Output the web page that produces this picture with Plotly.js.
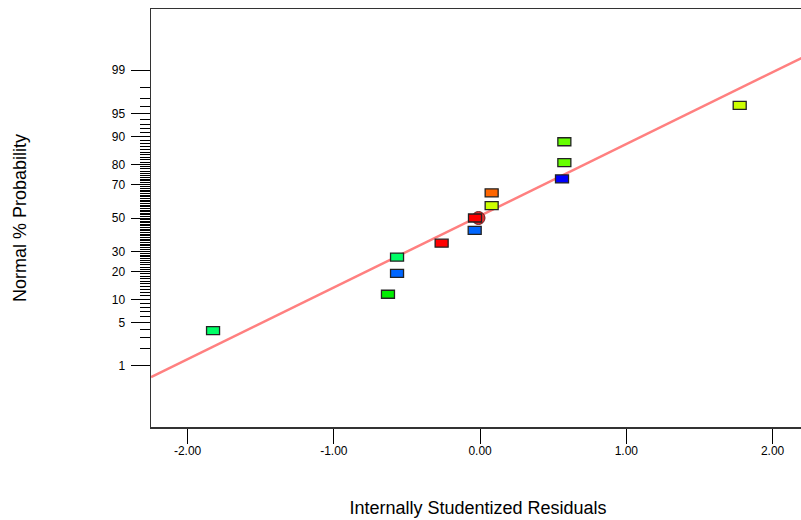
<!DOCTYPE html>
<html>
<head>
<meta charset="utf-8">
<script src="https://cdn.plot.ly/plotly-3.0.1.min.js"></script>
<style>
  html, body { margin: 0; padding: 0; overflow: hidden; background: #fff; width: 801px; height: 520px; }
  #plot { position: absolute; left: 0; top: -40px; width: 860px; height: 560px; }
</style>
</head>
<body>
<div id="plot"></div>
<script>
// Residuals in ascending order and their normal probability positions (%)
const residuals = [-1.826, -0.630, -0.568, -0.568, -0.263, -0.037, -0.035, 0.079, 0.079, 0.560, 0.576, 0.576, 1.775];
const normalPct = [3.8, 11.5, 19.2, 26.9, 34.6, 42.3, 50.0, 57.7, 65.4, 73.1, 80.8, 88.5, 96.2];
const pointColors = ['#00ff66', '#00ee00', '#0066ff', '#00ff66', '#ff0000', '#0066ff', '#ff0000',
                     '#ccff00', '#ff6600', '#0000ff', '#66ff00', '#66ff00', '#ccff00'];

// Highlighted run (circle drawn behind the squares)
const circleX = [-0.011];
const circlePct = [50.0];

// Reference line through the residuals
const fitX = [-2.25, 2.40];
const fitPct = [0.61, 99.70];

// Axis ticks
const majorPct = [1, 5, 10, 20, 30, 50, 70, 80, 90, 95, 99];
const xTicks = [-2, -1, 0, 1, 2];
const xTickText = ['-2.00', '-1.00', '0.00', '1.00', '2.00'];

// Inverse standard normal CDF (Acklam's rational approximation)
function probit(p) {
  const a = [-3.969683028665376e+01, 2.209460984245205e+02, -2.759285104469687e+02,
             1.383577518672690e+02, -3.066479806614716e+01, 2.506628277459239e+00];
  const b = [-5.447609879822406e+01, 1.615858368580409e+02, -1.556989798598866e+02,
             6.680131188771972e+01, -1.328068155288572e+01];
  const c = [-7.784894002430293e-03, -3.223964580411365e-01, -2.400758277161838e+00,
             -2.549732539343734e+00, 4.374664141464968e+00, 2.938163982698783e+00];
  const d = [7.784695709041462e-03, 3.224671290700398e-01, 2.445134137142996e+00,
             3.754408661907416e+00];
  const pl = 0.02425, ph = 1 - pl;
  let q, r;
  if (p < pl) {
    q = Math.sqrt(-2 * Math.log(p));
    return (((((c[0]*q + c[1])*q + c[2])*q + c[3])*q + c[4])*q + c[5]) /
           ((((d[0]*q + d[1])*q + d[2])*q + d[3])*q + 1);
  }
  if (p > ph) {
    q = Math.sqrt(-2 * Math.log(1 - p));
    return -(((((c[0]*q + c[1])*q + c[2])*q + c[3])*q + c[4])*q + c[5]) /
            ((((d[0]*q + d[1])*q + d[2])*q + d[3])*q + 1);
  }
  q = p - 0.5; r = q * q;
  return (((((a[0]*r + a[1])*r + a[2])*r + a[3])*r + a[4])*r + a[5]) * q /
         (((((b[0]*r + b[1])*r + b[2])*r + b[3])*r + b[4])*r + 1);
}
const zOf = pct => probit(pct / 100);

// Minor ticks at every whole percent
const minorPct = [];
for (let k = 1; k <= 99; k++) if (!majorPct.includes(k)) minorPct.push(k);

const traces = [
  {
    x: fitX, y: fitPct.map(zOf), type: 'scatter', mode: 'lines',
    line: { color: 'rgb(255,128,128)', width: 2.5 }, hoverinfo: 'skip'
  },
  {
    x: circleX, y: circlePct.map(zOf), type: 'scatter', mode: 'markers',
    marker: { symbol: 'circle', size: 13, color: '#e03030', line: { color: '#6b2020', width: 1 } }
  }
];

// Rectangular point markers, anchored at the data values
const shapes = residuals.map((r, i) => ({
  type: 'rect', xref: 'x', yref: 'y',
  xsizemode: 'pixel', ysizemode: 'pixel',
  xanchor: r, yanchor: zOf(normalPct[i]),
  x0: -6.5, x1: 6.5, y0: -4, y1: 4,
  fillcolor: pointColors[i],
  line: { color: '#222', width: 1.3 },
  layer: 'above'
}));

const layout = {
  width: 860, height: 560,
  margin: { l: 151, r: 55, t: 49, b: 93, pad: 0 },
  paper_bgcolor: '#fff', plot_bgcolor: '#fff',
  font: { family: '"Liberation Sans", Arial, sans-serif', color: '#000', size: 12 },
  showlegend: false,
  // Chart heading, sitting right above the frame
  annotations: [{
    text: 'Normal Plot of Residuals', font: { size: 27, color: '#000' },
    xref: 'paper', x: 0.503, xanchor: 'center',
    yref: 'paper', y: 1, yanchor: 'bottom', yshift: 3,
    showarrow: false, borderpad: 1
  }],
  xaxis: {
    range: [-2.2503, 2.2215],
    tickmode: 'array', tickvals: xTicks, ticktext: xTickText,
    ticks: 'outside', ticklen: 15, tickwidth: 1, tickcolor: '#000',
    tickfont: { size: 12 }, ticklabelstandoff: -3,
    showline: true, linecolor: '#333', linewidth: 1.5, mirror: true,
    showgrid: false, zeroline: false,
    title: { text: 'Internally Studentized Residuals', font: { size: 18 }, standoff: 44 }
  },
  yaxis: {
    range: [-3.2905, 3.2905],
    tickmode: 'array', tickvals: majorPct.map(zOf), ticktext: majorPct.map(String),
    ticks: 'outside', ticklen: 19, tickwidth: 1, tickcolor: '#000',
    tickfont: { size: 12 }, ticklabelstandoff: 3,
    minor: { tickmode: 'array', tickvals: minorPct.map(zOf), ticks: 'outside',
             ticklen: 10, tickwidth: 1, tickcolor: '#000', showgrid: false },
    showline: true, linecolor: '#333', linewidth: 1.5, mirror: true,
    showgrid: false, zeroline: false,
    title: { text: 'Normal % Probability', font: { size: 18 }, standoff: 80 }
  },
  shapes: shapes
};

Plotly.newPlot('plot', traces, layout, { displayModeBar: false, staticPlot: true });
</script>
</body>
</html>
